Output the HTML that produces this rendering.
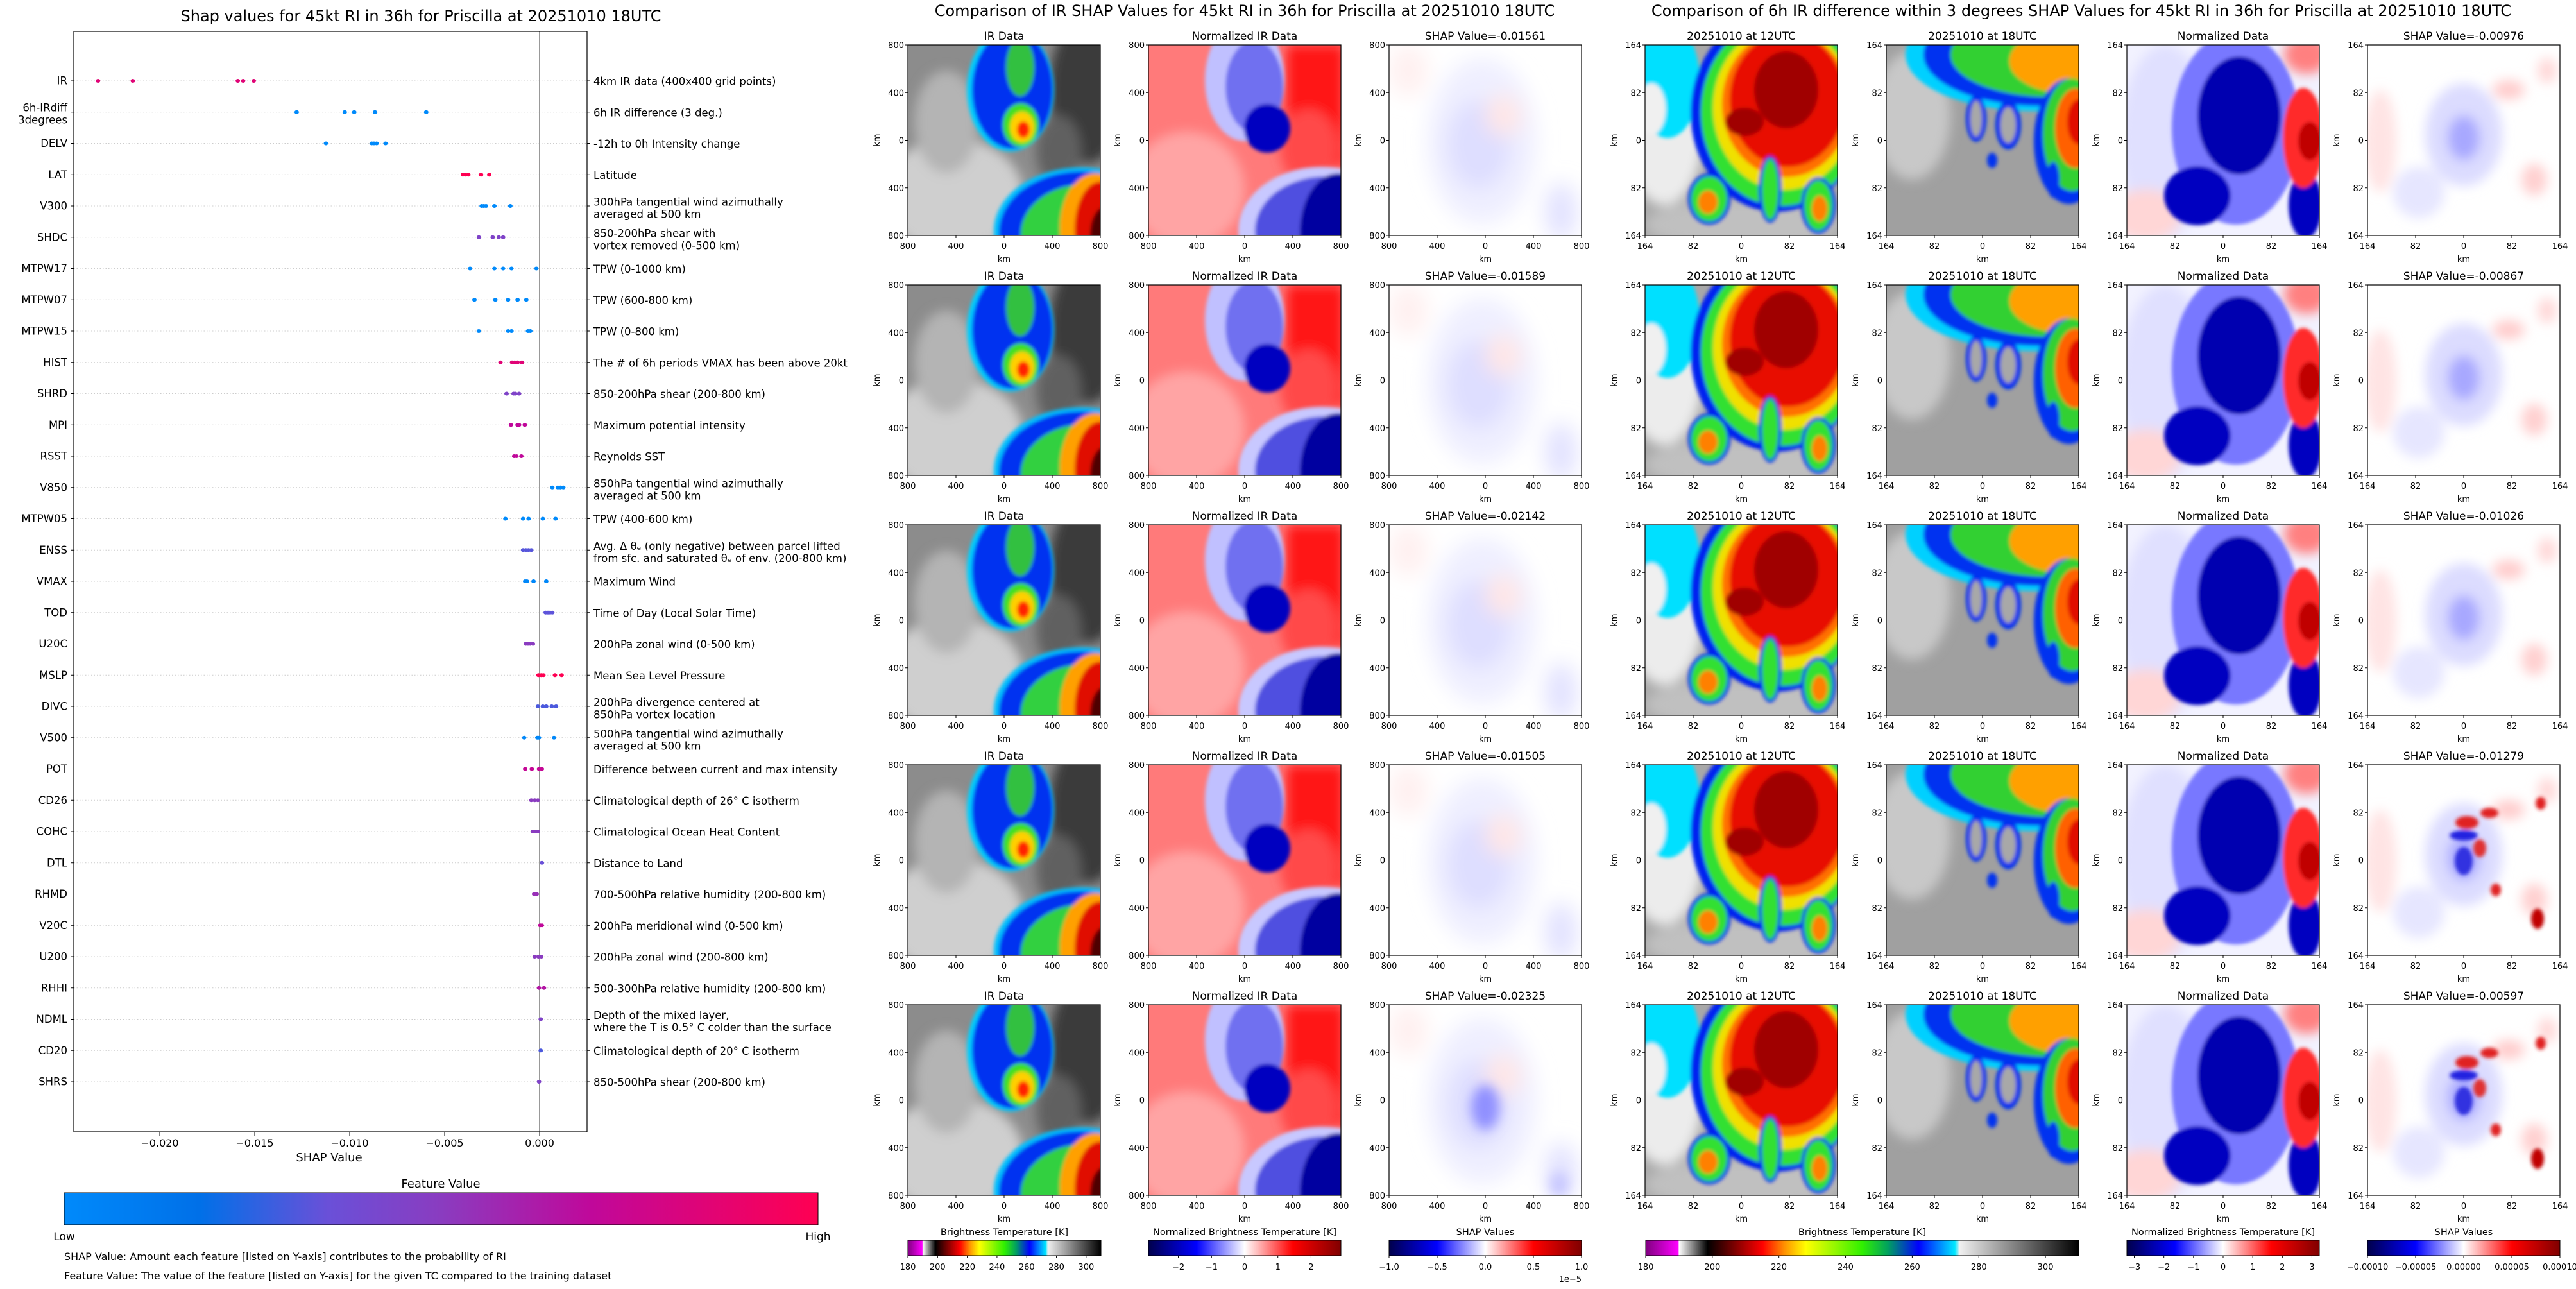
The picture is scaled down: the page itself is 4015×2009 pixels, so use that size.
<!DOCTYPE html>
<html><head><meta charset="utf-8"><title>SHAP RI figure</title>
<style>
html,body{margin:0;padding:0;background:#fff;}
svg{display:block;font-family:"DejaVu Sans","Liberation Sans",sans-serif;}
</style></head>
<body>
<svg id="fig" xmlns="http://www.w3.org/2000/svg" width="4015" height="2009" viewBox="0 0 4015 2009">
<defs>
<filter id="b3" x="-20%" y="-20%" width="140%" height="140%"><feGaussianBlur stdDeviation="3"/></filter>
<filter id="b8" x="-30%" y="-30%" width="160%" height="160%"><feGaussianBlur stdDeviation="9"/></filter>
<filter id="b15" x="-40%" y="-40%" width="180%" height="180%"><feGaussianBlur stdDeviation="16"/></filter>
<clipPath id="clip0"><rect x="0" y="0" width="300" height="297"/></clipPath>
<linearGradient id="gFeat" x1="0" x2="1" y1="0" y2="0">
<stop offset="0" stop-color="#008afb"/><stop offset="0.18" stop-color="#0070e8"/><stop offset="0.35" stop-color="#6a50d8"/><stop offset="0.5" stop-color="#8a3cc0"/><stop offset="0.7" stop-color="#c0089a"/><stop offset="1" stop-color="#ff0052"/>
</linearGradient>
<linearGradient id="gIR" x1="0" x2="1" y1="0" y2="0">
<stop offset="0" stop-color="#800080"/><stop offset="0.075" stop-color="#ff00ff"/><stop offset="0.077" stop-color="#ffffff"/><stop offset="0.143" stop-color="#000000"/><stop offset="0.27" stop-color="#ff0000"/><stop offset="0.32" stop-color="#ff9000"/><stop offset="0.37" stop-color="#ffff00"/><stop offset="0.5" stop-color="#30f000"/><stop offset="0.56" stop-color="#00a060"/><stop offset="0.63" stop-color="#0000ff"/><stop offset="0.714" stop-color="#00e8ff"/><stop offset="0.725" stop-color="#f0f0f0"/><stop offset="1" stop-color="#000000"/>
</linearGradient>
<linearGradient id="gSeis" x1="0" x2="1" y1="0" y2="0">
<stop offset="0" stop-color="#00004c"/><stop offset="0.25" stop-color="#0000ff"/><stop offset="0.5" stop-color="#ffffff"/><stop offset="0.75" stop-color="#ff0000"/><stop offset="1" stop-color="#800000"/>
</linearGradient>

<g id="irImg">
<rect width="300" height="297" fill="#8c8c8c"/>
<g filter="url(#b8)">
<ellipse cx="70" cy="235" rx="110" ry="90" fill="#cfcfcf"/>
<ellipse cx="60" cy="120" rx="50" ry="80" fill="#b4b4b4"/>
<ellipse cx="280" cy="70" rx="60" ry="115" fill="#3a3a3a"/>
<ellipse cx="235" cy="165" rx="35" ry="55" fill="#606060"/>
</g>
<g filter="url(#b3)">
<ellipse cx="160" cy="70" rx="68" ry="96" fill="#00d0ff"/>
<ellipse cx="163" cy="70" rx="63" ry="92" fill="#0030f0"/>
<ellipse cx="175" cy="35" rx="22" ry="45" fill="#30c040"/>
<ellipse cx="176" cy="125" rx="28" ry="34" fill="#40e020"/>
<ellipse cx="178" cy="128" rx="19" ry="24" fill="#ffd000"/>
<ellipse cx="180" cy="132" rx="10" ry="13" fill="#ff2000"/>
<ellipse cx="270" cy="290" rx="136" ry="99" fill="#00c0ff"/>
<ellipse cx="272" cy="292" rx="130" ry="95" fill="#0030f0"/>
<ellipse cx="276" cy="295" rx="100" ry="78" fill="#30d040"/>
<ellipse cx="292" cy="285" rx="55" ry="85" fill="#ffa000"/>
<ellipse cx="300" cy="288" rx="40" ry="75" fill="#e01000"/>
<ellipse cx="306" cy="298" rx="22" ry="45" fill="#500000"/>
</g>
</g>

<g id="nirImg">
<rect width="300" height="297" fill="#ff7a7a"/>
<g filter="url(#b8)">
<ellipse cx="60" cy="225" rx="90" ry="90" fill="#ffa4a4"/>
<rect x="215" y="0" width="90" height="190" fill="#ff1818"/>
<ellipse cx="250" cy="160" rx="45" ry="60" fill="#ff4848"/>
</g>
<g filter="url(#b3)">
<ellipse cx="150" cy="55" rx="62" ry="95" fill="#c0c0ff"/>
<ellipse cx="165" cy="65" rx="45" ry="72" fill="#7070f0"/>
<ellipse cx="185" cy="130" rx="36" ry="38" fill="#0000c0"/>
<ellipse cx="270" cy="290" rx="130" ry="100" fill="#c8c8ff"/>
<ellipse cx="276" cy="290" rx="110" ry="85" fill="#5050e0"/>
<ellipse cx="296" cy="292" rx="60" ry="92" fill="#0000a0"/>
</g>
</g>

<g id="shapImg">
<rect width="300" height="297" fill="#ffffff"/>
<g filter="url(#b15)">
<ellipse cx="145" cy="150" rx="85" ry="130" fill="#efefff"/>
<ellipse cx="140" cy="155" rx="50" ry="70" fill="#dedeff"/>
<ellipse cx="178" cy="110" rx="28" ry="32" fill="#ffe6e6"/>
<ellipse cx="268" cy="260" rx="25" ry="45" fill="#e2e2ff"/>
<ellipse cx="30" cy="40" rx="30" ry="40" fill="#fff0f0"/>
</g>
</g>
<g id="shapImg2">
<use href="#shapImg"/>
<g filter="url(#b8)">
<ellipse cx="150" cy="160" rx="22" ry="35" fill="#9090ff"/>
<ellipse cx="265" cy="280" rx="15" ry="20" fill="#c8c8ff"/>
</g>
</g>

<g id="t12Img">
<rect width="300" height="297" fill="#a8a8a8"/>
<g filter="url(#b8)">
<ellipse cx="30" cy="140" rx="60" ry="110" fill="#ececec"/>
<ellipse cx="150" cy="280" rx="150" ry="40" fill="#c0c0c0"/>
</g>
<g filter="url(#b3)">
<ellipse cx="35" cy="55" rx="50" ry="90" fill="#00e0ff"/>
<ellipse cx="10" cy="100" rx="22" ry="40" fill="#f0f0f0"/>
<ellipse cx="205" cy="105" rx="134" ry="155" fill="#0020f0"/>
<ellipse cx="212" cy="105" rx="125" ry="146" fill="#30e030"/>
<ellipse cx="216" cy="98" rx="110" ry="128" fill="#f0e000"/>
<ellipse cx="220" cy="92" rx="100" ry="114" fill="#ff7000"/>
<ellipse cx="222" cy="86" rx="90" ry="104" fill="#e81000"/>
<ellipse cx="220" cy="70" rx="50" ry="60" fill="#a00000"/>
<ellipse cx="155" cy="120" rx="30" ry="22" fill="#a00000"/>
<ellipse cx="100" cy="240" rx="33" ry="40" fill="#0020f0"/>
<ellipse cx="100" cy="240" rx="28" ry="35" fill="#30e030"/>
<ellipse cx="98" cy="245" rx="15" ry="18" fill="#ff8000"/>
<ellipse cx="270" cy="250" rx="27" ry="44" fill="#0020f0"/>
<ellipse cx="270" cy="250" rx="22" ry="39" fill="#30e030"/>
<ellipse cx="272" cy="255" rx="12" ry="20" fill="#ff8000"/>
<ellipse cx="195" cy="225" rx="18" ry="52" fill="#0020f0"/>
<ellipse cx="195" cy="225" rx="13" ry="47" fill="#30e030"/>
</g>
</g>

<g id="t18Img">
<rect width="300" height="297" fill="#a0a0a0"/>
<g filter="url(#b8)">
<ellipse cx="40" cy="110" rx="60" ry="100" fill="#c8c8c8"/>
</g>
<g filter="url(#b3)">
<ellipse cx="230" cy="15" rx="200" ry="88" fill="#00d0ff"/>
<ellipse cx="240" cy="15" rx="182" ry="80" fill="#0030f0"/>
<ellipse cx="255" cy="15" rx="155" ry="66" fill="#30d030"/>
<ellipse cx="282" cy="25" rx="90" ry="50" fill="#ffa000"/>
<ellipse cx="285" cy="150" rx="55" ry="98" fill="#0030f0"/>
<ellipse cx="290" cy="140" rx="46" ry="88" fill="#30d030"/>
<ellipse cx="295" cy="130" rx="32" ry="62" fill="#ff6000"/>
<ellipse cx="300" cy="120" rx="18" ry="35" fill="#e01000"/>
<ellipse cx="140" cy="115" rx="16" ry="36" fill="#0030f0"/>
<ellipse cx="140" cy="115" rx="9" ry="28" fill="#a8a8a8"/>
<ellipse cx="190" cy="125" rx="20" ry="38" fill="#0030f0"/>
<ellipse cx="190" cy="125" rx="12" ry="28" fill="#a8a8a8"/>
<ellipse cx="260" cy="210" rx="10" ry="28" fill="#0030f0"/>
<ellipse cx="165" cy="180" rx="8" ry="12" fill="#0030f0"/>
</g>
</g>

<g id="ndImg">
<rect width="300" height="297" fill="#f2f2ff"/>
<g filter="url(#b8)">
<ellipse cx="60" cy="150" rx="70" ry="150" fill="#e0e0ff"/>
<ellipse cx="30" cy="265" rx="55" ry="40" fill="#ffd6d6"/>
<ellipse cx="280" cy="15" rx="35" ry="30" fill="#ff8080"/>
</g>
<g filter="url(#b3)">
<ellipse cx="170" cy="130" rx="100" ry="150" fill="#7878ff"/>
<ellipse cx="175" cy="110" rx="65" ry="92" fill="#0000b0"/>
<ellipse cx="110" cy="235" rx="52" ry="46" fill="#0000c0"/>
<ellipse cx="278" cy="250" rx="26" ry="52" fill="#0000c0"/>
<ellipse cx="275" cy="145" rx="32" ry="78" fill="#ff2a2a"/>
<ellipse cx="285" cy="150" rx="18" ry="30" fill="#c00000"/>
</g>
</g>

<g id="rshapImg">
<rect width="300" height="297" fill="#ffffff"/>
<g filter="url(#b8)">
<ellipse cx="20" cy="150" rx="25" ry="80" fill="#ffe4e4"/>
<ellipse cx="150" cy="140" rx="60" ry="80" fill="#dcdcff"/>
<ellipse cx="150" cy="145" rx="25" ry="35" fill="#a8a8ff"/>
<ellipse cx="220" cy="70" rx="25" ry="15" fill="#ffcccc"/>
<ellipse cx="260" cy="210" rx="20" ry="25" fill="#ffd0d0"/>
<ellipse cx="80" cy="230" rx="40" ry="40" fill="#e6e6ff"/>
<ellipse cx="280" cy="40" rx="15" ry="20" fill="#ffd8d8"/>
</g>
</g>
<g id="rshapImg2">
<use href="#rshapImg"/>
<g filter="url(#b3)">
<ellipse cx="155" cy="90" rx="18" ry="10" fill="#e02020"/>
<ellipse cx="150" cy="110" rx="22" ry="8" fill="#2020e0"/>
<ellipse cx="175" cy="130" rx="10" ry="14" fill="#e03030"/>
<ellipse cx="150" cy="150" rx="14" ry="22" fill="#3030e0"/>
<ellipse cx="190" cy="75" rx="14" ry="8" fill="#e02020"/>
<ellipse cx="265" cy="240" rx="10" ry="16" fill="#c00000"/>
<ellipse cx="270" cy="60" rx="8" ry="10" fill="#e02020"/>
<ellipse cx="200" cy="195" rx="8" ry="10" fill="#e02020"/>
</g>
</g>
</defs>
</svg>

<script>
// ---------------- Beeswarm data ----------------
const features = ["IR","6h-IRdiff\n3degrees","DELV","LAT","V300","SHDC","MTPW17","MTPW07","MTPW15","HIST","SHRD","MPI","RSST","V850","MTPW05","ENSS","VMAX","TOD","U20C","MSLP","DIVC","V500","POT","CD26","COHC","DTL","RHMD","V20C","U200","RHHI","NDML","CD20","SHRS"];
const descriptions = ["4km IR data (400x400 grid points)","6h IR difference (3 deg.)","-12h to 0h Intensity change","Latitude","300hPa tangential wind azimuthally\naveraged at 500 km","850-200hPa shear with\nvortex removed (0-500 km)","TPW (0-1000 km)","TPW (600-800 km)","TPW (0-800 km)","The # of 6h periods VMAX has been above 20kt","850-200hPa shear (200-800 km)","Maximum potential intensity","Reynolds SST","850hPa tangential wind azimuthally\naveraged at 500 km","TPW (400-600 km)","Avg. Δ θₑ (only negative) between parcel lifted\nfrom sfc. and saturated θₑ of env. (200-800 km)","Maximum Wind","Time of Day (Local Solar Time)","200hPa zonal wind (0-500 km)","Mean Sea Level Pressure","200hPa divergence centered at\n850hPa vortex location","500hPa tangential wind azimuthally\naveraged at 500 km","Difference between current and max intensity","Climatological depth of 26° C isotherm","Climatological Ocean Heat Content","Distance to Land","700-500hPa relative humidity (200-800 km)","200hPa meridional wind (0-500 km)","200hPa zonal wind (200-800 km)","500-300hPa relative humidity (200-800 km)","Depth of the mixed layer,\nwhere the T is 0.5° C colder than the surface","Climatological depth of 20° C isotherm","850-500hPa shear (200-800 km)"];
const shapValues = [
[-0.02325,-0.02142,-0.01589,-0.01561,-0.01505],
[-0.01279,-0.01026,-0.00976,-0.00867,-0.00597],
[-0.01125,-0.00884,-0.00872,-0.00858,-0.00811],
[-0.00404,-0.00392,-0.00375,-0.00308,-0.00265],
[-0.00305,-0.00294,-0.00282,-0.00238,-0.00154],
[-0.0032,-0.00247,-0.00215,-0.00192],
[-0.00366,-0.00238,-0.00192,-0.00148,-0.00017],
[-0.00343,-0.00233,-0.00166,-0.00116,-0.0007],
[-0.0032,-0.00166,-0.00148,-0.00061,-0.00049],
[-0.00206,-0.00145,-0.00131,-0.00116,-0.00093],
[-0.00174,-0.00137,-0.00128,-0.00108],
[-0.00151,-0.00116,-0.00108,-0.00078],
[-0.00134,-0.00122,-0.00096],
[0.00067,0.00096,0.0011,0.00125],
[-0.0018,-0.00087,-0.00058,0.00017,0.00084],
[-0.00087,-0.00073,-0.00058,-0.00044],
[-0.00076,-0.00067,-0.00032,0.00035],
[0.00032,0.00044,0.00055,0.00067],
[-0.00073,-0.00061,-0.00049,-0.00035],
[-0.00006,0.00009,0.0002,0.00081,0.00116],
[-0.00009,0.00017,0.00035,0.00064,0.00087],
[-0.00081,-0.00012,-0.00003,0.00076],
[-0.00076,-0.00041,-0.00003,0.00012],
[-0.00044,-0.00026,-0.00009],
[-0.00035,-0.0002,-0.00009],
[0.00012],
[-0.00029,-0.00015],
[0.00003,0.00012],
[-0.00026,-0.00006,0.00009],
[-0.00003,0.00023],
[0.00006],
[0.00006],
[-0.00003]];
const featureLevels = [0.85,0.0,0.0,1.0,0.0,0.45,0.0,0.0,0.0,0.85,0.45,0.7,0.7,0.0,0.0,0.32,0.02,0.33,0.5,1.0,0.3,0.02,0.72,0.5,0.5,0.35,0.55,0.7,0.5,0.65,0.45,0.3,0.45];
const xTickValues = [-0.020,-0.015,-0.010,-0.005,0.000];
const xTickLabels = ["\u22120.020","\u22120.015","\u22120.010","\u22120.005","0.000"];

// ---------------- Panel data ----------------
const irShapTitles = ["SHAP Value=-0.01561","SHAP Value=-0.01589","SHAP Value=-0.02142","SHAP Value=-0.01505","SHAP Value=-0.02325"];
const diffShapTitles = ["SHAP Value=-0.00976","SHAP Value=-0.00867","SHAP Value=-0.01026","SHAP Value=-0.01279","SHAP Value=-0.00597"];
const irAxisLabels = ["800","400","0","400","800"];
const diffAxisLabels = ["164","82","0","82","164"];
const cbIRTicks = [180,200,220,240,260,280,300];
const cbNormTicksMid = [-2,-1,0,1,2];
const cbShapTicksMid = [-1.0,-0.5,0.0,0.5,1.0];
const cbNormTicksRight = [-3,-2,-1,0,1,2,3];
const cbShapTicksRight = [-0.0001,-0.00005,0,0.00005,0.0001];

const NS = 'http://www.w3.org/2000/svg';
const svg = document.getElementById('fig');
function mk(tag, attrs, parent){
  const e = document.createElementNS(NS, tag);
  for (const k in attrs) e.setAttribute(k, attrs[k]);
  (parent || svg).appendChild(e);
  return e;
}
function txt(s, attrs, parent){
  const e = mk('text', attrs, parent);
  const lines = String(s).split('\n');
  if (lines.length === 1) { e.textContent = s; return e; }
  const fs = parseFloat(attrs['font-size'] || 16);
  lines.forEach((ln, i) => {
    const t = document.createElementNS(NS, 'tspan');
    t.setAttribute('x', attrs.x);
    t.setAttribute('dy', i === 0 ? (-0.45 * fs) : (1.15 * fs));
    t.textContent = ln;
    e.appendChild(t);
  });
  return e;
}

// ---------------- Beeswarm chart ----------------
const PL = 115, PR = 915, PT = 49, PB = 1764;
function xScale(v){ return 841 + v / 0.005 * 148; }
function yRow(i){ return 126 + i * 48.75; }
const cstops = [[0,[0,138,251]],[0.18,[0,112,232]],[0.35,[106,80,216]],[0.5,[138,60,192]],[0.7,[192,8,154]],[1,[255,0,82]]];
function cmap(t){
  for (let i = 1; i < cstops.length; i++) {
    if (t <= cstops[i][0]) {
      const a = cstops[i-1], b = cstops[i], f = (t - a[0]) / (b[0] - a[0]);
      const c = a[1].map((v, k) => Math.round(v + (b[1][k] - v) * f));
      return 'rgb(' + c.join(',') + ')';
    }
  }
  return 'rgb(255,0,82)';
}

const shapChart = mk('g', {});



const t0 = txt('Shap values for 45kt RI in 36h for Priscilla at 20251010 18UTC', {x: 656, y: 33, 'font-size': 24, 'text-anchor': 'middle'}, shapChart);



features.forEach((f, i) => {
  const y = yRow(i);
  const g = mk('line', {x1: PL, x2: PR, y1: y, y2: y, stroke: '#cccccc', 'stroke-width': 1, 'stroke-dasharray': '1.5,3'}, shapChart);
  
  
  const tk = mk('line', {x1: PL - 5, x2: PL, y1: y, y2: y, stroke: '#000', 'stroke-width': 1}, shapChart);
  
  
  const tk2 = mk('line', {x1: PR, x2: PR + 5, y1: y, y2: y, stroke: '#000', 'stroke-width': 1}, shapChart);
  
  
  const lb = txt(f, {x: PL - 10, y: y, 'font-size': 16.5, 'text-anchor': 'end', 'dominant-baseline': 'central'}, shapChart);
  
  
  const ds = txt(descriptions[i], {x: PR + 10, y: y + 1, 'font-size': 16.5, 'dominant-baseline': 'central'}, shapChart);
  
  
});

const zl = mk('line', {x1: xScale(0), x2: xScale(0), y1: PT, y2: PB, stroke: '#999999', 'stroke-width': 2}, shapChart);



shapValues.forEach((vals, i) => {
  vals.forEach(v => {
    const d = mk('ellipse', {cx: xScale(v), cy: yRow(i), rx: 3.5, ry: 3, fill: cmap(featureLevels[i])}, shapChart);
    
    
  });
});

const frame = mk('rect', {x: PL, y: PT, width: PR - PL, height: PB - PT, fill: 'none', stroke: '#000', 'stroke-width': 1.2}, shapChart);



xTickValues.forEach((v, i) => {
  const x = xScale(v);
  const tl = mk('line', {x1: x, x2: x, y1: PB, y2: PB + 6, stroke: '#000'}, shapChart);
  
  
  const tt = txt(xTickLabels[i], {x: x, y: PB + 23, 'font-size': 16, 'text-anchor': 'middle'}, shapChart);
  
  
});
const xt = txt('SHAP Value', {x: 513, y: 1810, 'font-size': 18, 'text-anchor': 'middle'}, shapChart);



const fvt = txt('Feature Value', {x: 687, y: 1851, 'font-size': 18, 'text-anchor': 'middle'}, shapChart);


const fcb = mk('rect', {x: 100, y: 1859, width: 1175, height: 50, fill: 'url(#gFeat)', stroke: '#000', 'stroke-width': 1}, shapChart);


const lo = txt('Low', {x: 100, y: 1933, 'font-size': 17, 'text-anchor': 'middle'}, shapChart);


const hi = txt('High', {x: 1275, y: 1933, 'font-size': 17, 'text-anchor': 'middle'}, shapChart);


const n1 = txt('SHAP Value: Amount each feature [listed on Y-axis] contributes to the probability of RI', {x: 100, y: 1964, 'font-size': 16}, shapChart);


const n2 = txt('Feature Value: The value of the feature [listed on Y-axis] for the given TC compared to the training dataset', {x: 100, y: 1994, 'font-size': 16}, shapChart);



// ---------------- Image panels ----------------
const PW = 300, PH = 297;
const midCols = [1415, 1790, 2165];
const rightCols = [2564, 2940, 3315, 3690];
const rowTops = [70, 444, 818, 1192, 1566];

function panel(x, y, imgId, title, labels, name){
  const g = mk('g', {});
  
  
  const tt = txt(title, {x: x + PW / 2, y: y - 8, 'font-size': 17, 'text-anchor': 'middle'}, g);
  
  
  const u = mk('use', {href: '#' + imgId, transform: 'translate(' + x + ',' + y + ')', 'clip-path': 'url(#clip0)'}, g);
  
  
  const fr = mk('rect', {x: x, y: y, width: PW, height: PH, fill: 'none', stroke: '#000', 'stroke-width': 1.2}, g);
  
  
  for (let i = 0; i < 5; i++) {
    const yy = y + i * PH / 4, xx = x + i * PW / 4;
    const a = mk('line', {x1: x - 4, x2: x, y1: yy, y2: yy, stroke: '#000'}, g);
    
    
    const al = txt(labels[i], {x: x - 6, y: yy + 5, 'font-size': 13, 'text-anchor': 'end'}, g);
    
    
    const b = mk('line', {x1: xx, x2: xx, y1: y + PH, y2: y + PH + 4, stroke: '#000'}, g);
    
    
    const bl = txt(labels[i], {x: xx, y: y + PH + 21, 'font-size': 13, 'text-anchor': 'middle'}, g);
    
    
  }
  const xl = txt('km', {x: x + PW / 2, y: y + PH + 41, 'font-size': 13, 'text-anchor': 'middle'}, g);
  
  
  const yl = txt('km', {x: 0, y: 0, 'font-size': 13, 'text-anchor': 'middle', transform: 'translate(' + (x - 44) + ',' + (y + PH / 2) + ') rotate(-90)'}, g);
  
  
}

const st1 = txt('Comparison of IR SHAP Values for 45kt RI in 36h for Priscilla at 20251010 18UTC', {x: 1940, y: 25, 'font-size': 24, 'text-anchor': 'middle'});


const st2 = txt('Comparison of 6h IR difference within 3 degrees SHAP Values for 45kt RI in 36h for Priscilla at 20251010 18UTC', {x: 3244, y: 25, 'font-size': 24, 'text-anchor': 'middle'});



rowTops.forEach((y, r) => {
  panel(midCols[0], y, 'irImg', 'IR Data', irAxisLabels, 'ir-data-panel');
  panel(midCols[1], y, 'nirImg', 'Normalized IR Data', irAxisLabels, 'normalized-ir-panel');
  panel(midCols[2], y, r === 4 ? 'shapImg2' : 'shapImg', irShapTitles[r], irAxisLabels, 'ir-shap-panel');
  panel(rightCols[0], y, 't12Img', '20251010 at 12UTC', diffAxisLabels, 'ir-12utc-panel');
  panel(rightCols[1], y, 't18Img', '20251010 at 18UTC', diffAxisLabels, 'ir-18utc-panel');
  panel(rightCols[2], y, 'ndImg', 'Normalized Data', diffAxisLabels, 'normalized-diff-panel');
  panel(rightCols[3], y, r >= 3 ? 'rshapImg2' : 'rshapImg', diffShapTitles[r], diffAxisLabels, 'diff-shap-panel');
});

// ---------------- Colorbars ----------------
function colorbar(x, w, grad, title, ticks, vmin, vmax, fmt, name){
  const y = 1933, h = 24;
  const g = mk('g', {});
  
  
  const t = txt(title, {x: x + w / 2, y: 1925, 'font-size': 14.5, 'text-anchor': 'middle'}, g);
  
  
  const r = mk('rect', {x: x, y: y, width: w, height: h, fill: 'url(#' + grad + ')', stroke: '#000', 'stroke-width': 1}, g);
  
  
  ticks.forEach(v => {
    const xx = x + (v - vmin) / (vmax - vmin) * w;
    const l = mk('line', {x1: xx, x2: xx, y1: y + h, y2: y + h + 4, stroke: '#000'}, g);
    
    
    const lt = txt(fmt(v), {x: xx, y: 1979, 'font-size': 13, 'text-anchor': 'middle'}, g);
    
    
  });
  return g;
}
const minus = s => s.replace('-', '\u2212');
colorbar(1415, 301, 'gIR', 'Brightness Temperature [K]', cbIRTicks, 180, 310, v => String(v), 'ir-brightness-colorbar');
colorbar(1790, 300, 'gSeis', 'Normalized Brightness Temperature [K]', cbNormTicksMid, -2.9, 2.9, v => minus(String(v)), 'ir-normalized-colorbar');
const cbs = colorbar(2165, 300, 'gSeis', 'SHAP Values', cbShapTicksMid, -1, 1, v => minus(v.toFixed(1)), 'ir-shap-colorbar');
const ex = txt('1e\u22125', {x: 2465, y: 1998, 'font-size': 13, 'text-anchor': 'end'}, cbs);


colorbar(2565, 675, 'gIR', 'Brightness Temperature [K]', cbIRTicks, 180, 310, v => String(v), 'diff-brightness-colorbar');
colorbar(3315, 300, 'gSeis', 'Normalized Brightness Temperature [K]', cbNormTicksRight, -3.25, 3.25, v => minus(String(v)), 'diff-normalized-colorbar');
colorbar(3690, 300, 'gSeis', 'SHAP Values', cbShapTicksRight, -0.0001, 0.0001, v => minus(v.toFixed(5)), 'diff-shap-colorbar');
</script>
</body></html>
